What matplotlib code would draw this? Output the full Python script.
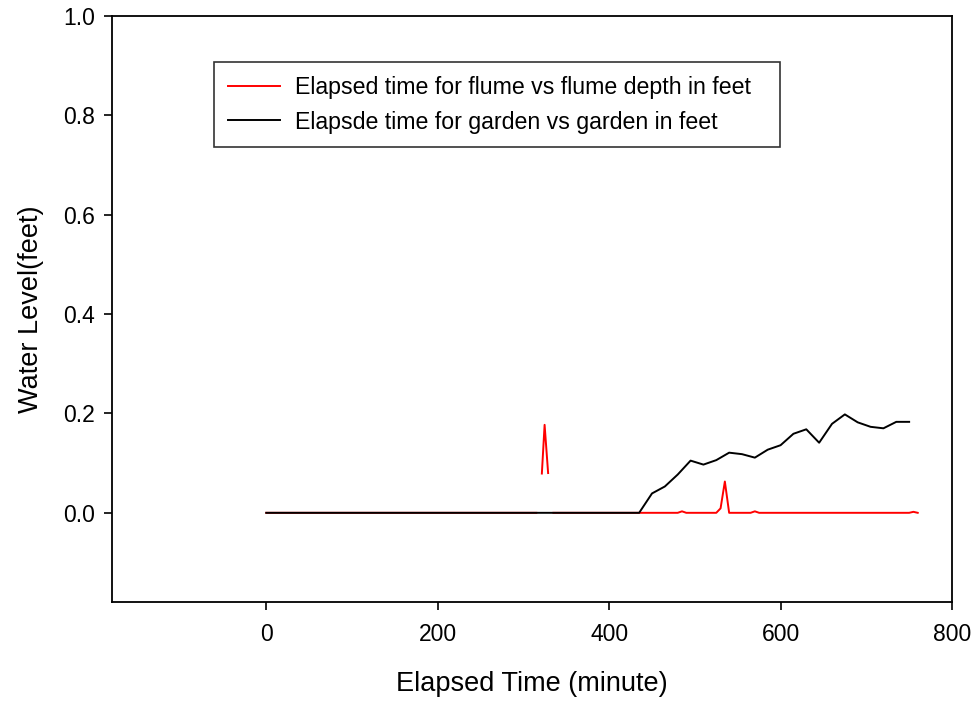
import numpy as np
import matplotlib
matplotlib.use("Agg")
import matplotlib.pyplot as plt

plt.rcParams['font.family'] = ['Liberation Sans', 'DejaVu Sans']

# Flume series (red); NaN marks gaps in the record
flume_time = [0, 315, np.nan, 321.5, 324.7, 328.8, np.nan, 335, 480, 485, 490, 525, 530, 535, 540,
              565, 570, 575, 750, 755, 760]
flume_depth = [0, 0, np.nan, 0.079, 0.177, 0.080, np.nan, 0, 0, 0.003, 0, 0, 0.009, 0.063, 0,
               0, 0.003, 0, 0, 0.002, 0]

# Garden series (black)
garden_time = [0, 435, 450, 465, 480, 495, 510, 525, 540, 555, 570, 585, 600, 615, 630,
               645, 660, 675, 690, 705, 720, 735, 750]
garden_level = [0, 0, 0.039, 0.053, 0.077, 0.105, 0.097, 0.106, 0.121, 0.118, 0.111, 0.127,
                0.136, 0.159, 0.168, 0.141, 0.179, 0.198, 0.182, 0.173, 0.170, 0.183, 0.183]

x_ticks = [0, 200, 400, 600, 800]
y_ticks = [0.0, 0.2, 0.4, 0.6, 0.8, 1.0]

fig = plt.figure(figsize=(9.77, 7.05), dpi=100)
ax = fig.add_axes([112/977, 1-602.3/705, 840/977, 586.6/705])

ax.plot(flume_time, flume_depth, color='red', lw=1.4,
        label='Elapsed time for flume vs flume depth in feet')
ax.plot(garden_time, garden_level, color='black', lw=1.4,
        label='Elapsde time for garden vs garden in feet')

ax.set_xlim(-180, 800)
ax.set_ylim(-0.18, 1.0)
ax.set_xticks(x_ticks)
ax.set_xticklabels([str(t) for t in x_ticks])
ax.set_yticks(y_ticks)
ax.set_yticklabels([f"{t:.1f}" for t in y_ticks])
ax.tick_params(direction='out', length=6, width=1.2, labelsize=16.5,
               top=False, right=False)
ax.tick_params(axis='x', pad=9)
ax.tick_params(axis='y', pad=6)
for s in ax.spines.values():
    s.set_linewidth(1.3)

ax.set_xlabel('Elapsed Time (minute)', fontsize=19.5, labelpad=18)
ax.set_ylabel('Water Level(feet)', fontsize=19.5, labelpad=14)

leg = ax.legend(loc='upper left', bbox_to_anchor=(0.121, 0.776, 0.674, 0.145),
                mode='expand', fontsize=16.7, frameon=True, fancybox=False,
                edgecolor='black', handlelength=2.25, handletextpad=0.65,
                borderpad=0.6, labelspacing=0.5, borderaxespad=0)
leg.get_frame().set_linewidth(1.2)

fig.savefig('out.png', dpi=100)
